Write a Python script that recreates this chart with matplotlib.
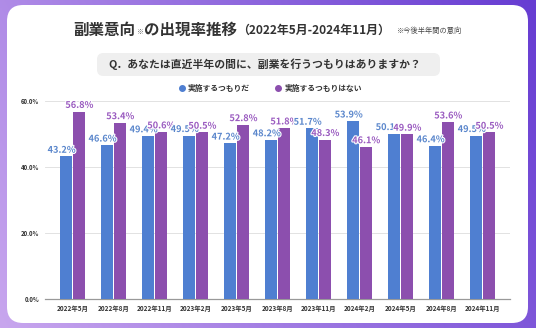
import numpy as np
import matplotlib
matplotlib.use("Agg")
import matplotlib.pyplot as plt
from matplotlib.patches import FancyBboxPatch
import matplotlib.patheffects as pe

plt.rcParams['font.family'] = ['Noto Sans CJK JP', 'DejaVu Sans']

#================== data =======================
months = ['2022年5月', '2022年8月', '2022年11月', '2023年2月', '2023年5月',
          '2023年8月', '2023年11月', '2024年2月', '2024年5月', '2024年8月', '2024年11月']
yes_vals = [43.2, 46.6, 49.4, 49.5, 47.2, 48.2, 51.7, 53.9, 50.1, 46.4, 49.5]
no_vals = [56.8, 53.4, 50.6, 50.5, 52.8, 51.8, 48.3, 46.1, 49.9, 53.6, 50.5]
series_names = ['実施するつもりだ', '実施するつもりはない']
yticks = [0, 20, 40, 60]

blue = '#4f7fd1'
purple = '#8c4fae'
blue_txt = '#5b87cc'
purple_txt = '#9a5bc0'

#================== figure =====================
W, H = 536, 328
fig = plt.figure(figsize=(W / 100, H / 100), dpi=100)

# gradient background
bg = fig.add_axes([0, 0, 1, 1])
gx = np.linspace(0, 1, 256)
gy = np.linspace(0, 1, 128)
GX, GY = np.meshgrid(gx, gy)
t = np.clip(0.75 * GX + 0.25 * (1 - GY), 0, 1)
c0 = np.array([0xc8, 0xa6, 0xee]) / 255
c1 = np.array([0x66, 0x3c, 0xd2]) / 255
img = c0[None, None, :] * (1 - t[..., None]) + c1[None, None, :] * t[..., None]
bg.imshow(img, extent=[0, 1, 0, 1], aspect='auto', origin='upper')
bg.set_xlim(0, 1)
bg.set_ylim(0, 1)
bg.axis('off')

# white card
card = FancyBboxPatch((7 / W, 1 - 323 / H), (528 - 7) / W, (323 - 5) / H,
                      boxstyle='round,pad=0,rounding_size=0.03',
                      transform=bg.transAxes, facecolor='white', edgecolor='none',
                      mutation_aspect=W / H)
bg.add_patch(card)

# title, pieces placed one after another
renderer = fig.canvas.get_renderer()
title_parts = [('副業意向', 11.2, 'bold', '#333333', 0),
               ('※', 5, 'normal', '#666666', -1.5),
               ('の出現率推移', 11.2, 'bold', '#333333', 0),
               ('（2022年5月-2024年11月）', 8.6, 'bold', '#333333', -0.5),
               ('※今後半年間の意向', 5.2, 'normal', '#444444', -0.5)]
gaps = [1, 1, 0, 7, 0]
xpos = 73
for (txt, fs, fw, col, dy), g in zip(title_parts, gaps):
    tt = fig.text(xpos / W, 1 - (30 - dy) / H, txt, fontsize=fs, fontweight=fw,
                  color=col, va='center', ha='left')
    bb = tt.get_window_extent(renderer)
    xpos += bb.width + g

# question box
qbox = FancyBboxPatch((97 / W, 1 - 76 / H), (440 - 97) / W, 23 / H,
                      boxstyle='round,pad=0,rounding_size=0.012',
                      transform=bg.transAxes, facecolor='#efefef', edgecolor='none',
                      mutation_aspect=W / H)
bg.add_patch(qbox)
fig.text(265 / W, 1 - 64.5 / H, 'Q．あなたは直近半年の間に、副業を行うつもりはありますか？',
         fontsize=7.8, fontweight='bold', color='#333333', va='center', ha='center')

# legend
bg.scatter([182 / W], [1 - 88 / H], s=16, color=blue, transform=bg.transAxes)
fig.text(188 / W, 1 - 88 / H, series_names[0], fontsize=5.6, fontweight='bold',
         color='#333333', va='center', ha='left')
bg.scatter([278 / W], [1 - 88 / H], s=16, color=purple, transform=bg.transAxes)
fig.text(285 / W, 1 - 88 / H, series_names[1], fontsize=5.6, fontweight='bold',
         color='#333333', va='center', ha='left')

#================== bars =======================
ax = fig.add_axes([45 / W, 1 - 299 / H, (510 - 45) / W, (299 - 101) / H])
ax.set_facecolor('none')
x = np.arange(len(months))
bw = 0.29
gap = 0.015
ax.bar(x - bw / 2 - gap, yes_vals, bw, color=blue, zorder=3)
ax.bar(x + bw / 2 + gap, no_vals, bw, color=purple, zorder=3)

stroke = [pe.withStroke(linewidth=1.6, foreground='white')]
for i in range(len(months)):
    ax.text(x[i] - bw / 2 - 0.12, yes_vals[i] + 0.5, '%.1f%%' % yes_vals[i],
            ha='center', va='bottom', fontsize=6.6, fontweight='bold',
            color=blue_txt, path_effects=stroke, zorder=5, clip_on=False)
    ax.text(x[i] + bw / 2 + 0.02, no_vals[i] + 0.5, '%.1f%%' % no_vals[i],
            ha='center', va='bottom', fontsize=6.6, fontweight='bold',
            color=purple_txt, path_effects=stroke, zorder=5, clip_on=False)

ax.set_xlim(-0.67, 10.67)
ax.set_ylim(0, 60)
ax.set_yticks(yticks)
ax.set_yticklabels(['%.1f%%' % v for v in yticks], fontsize=4.3, fontweight='bold',
                   color='#333333')
ax.set_xticks(x)
ax.set_xticklabels(months, fontsize=4.6, fontweight='bold', color='#333333')
ax.tick_params(axis='both', length=0, pad=4)
ax.tick_params(axis='y', pad=4)
ax.grid(axis='y', color='#dddddd', linewidth=0.6, zorder=0)
for s in ['top', 'right', 'left']:
    ax.spines[s].set_visible(False)
ax.spines['bottom'].set_color('#999999')
ax.spines['bottom'].set_linewidth(0.9)

fig.savefig('out.png', dpi=100)
